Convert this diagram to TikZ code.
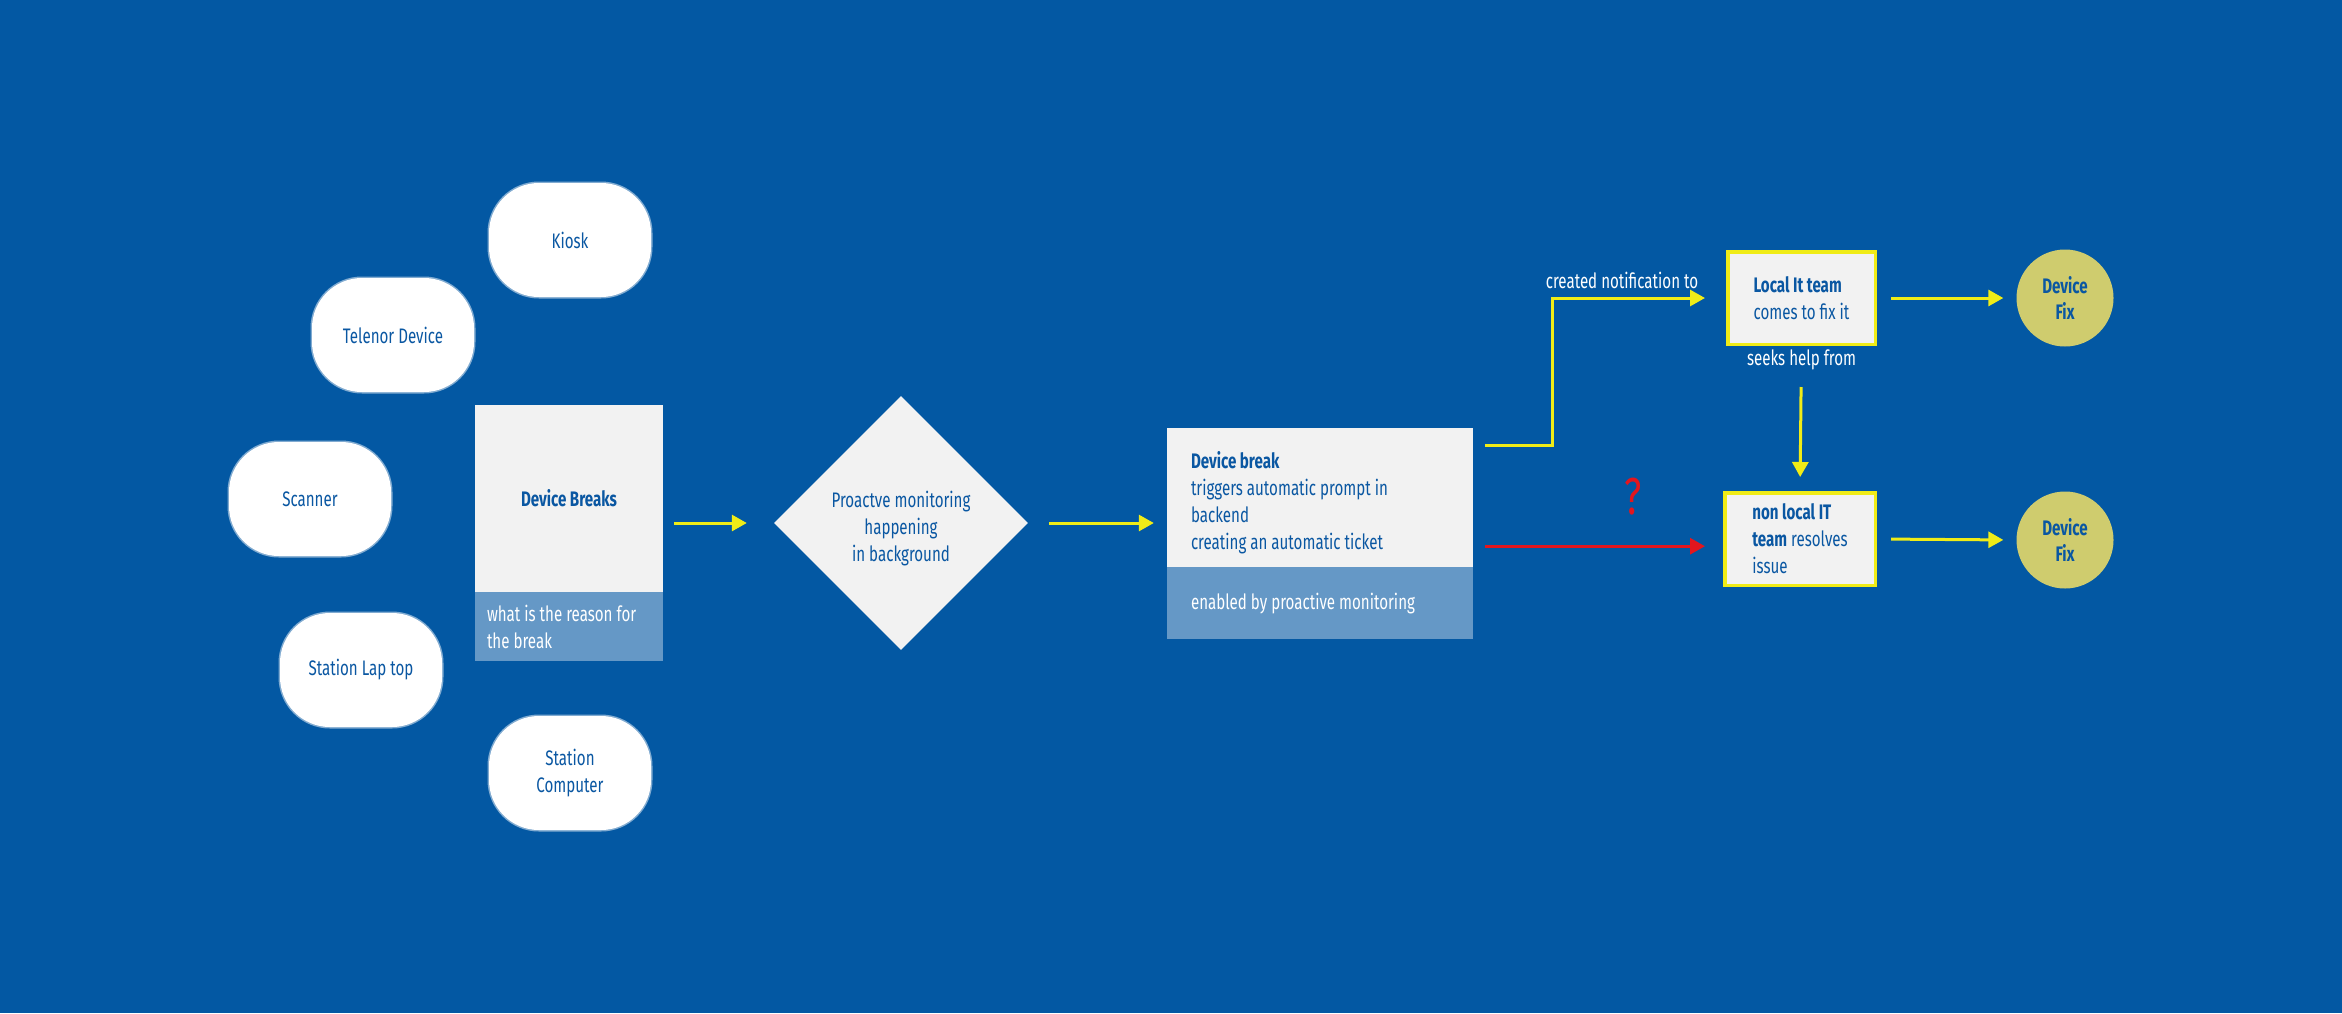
\documentclass[tikz,border=0pt]{standalone}
\usepackage{fontspec}
\setmainfont{Fira Sans}[FakeStretch=0.72]
\usetikzlibrary{shapes.geometric,arrows.meta,calc}
\definecolor{bgblue}{HTML}{0358A3}
\definecolor{boxlight}{HTML}{F2F2F2}
\definecolor{boxdark}{HTML}{6598C6}
\definecolor{txtblue}{HTML}{0A57A2}
\definecolor{arrowyellow}{HTML}{F0EC17}
\definecolor{fixolive}{HTML}{CFCC6E}
\definecolor{qred}{HTML}{E3161E}
\begin{document}
\begin{tikzpicture}[x=1pt,y=-1pt,
  every node/.style={font=\fontsize{21}{27}\selectfont, inner sep=0pt},
  device/.style={fill=white, rounded corners=50pt, draw=white, draw opacity=0.5, line width=3pt,
    text=txtblue, minimum width=162pt, minimum height=114pt, align=center},
  lightbox/.style={fill=boxlight, text=txtblue},
  darkbox/.style={fill=boxdark, text=white},
  teambox/.style={fill=boxlight, draw=arrowyellow, line width=3.5pt, text=txtblue, align=left},
  fixnode/.style={circle, fill=fixolive, text=txtblue, minimum size=97pt, align=center, font=\fontsize{21}{26}\selectfont\bfseries},
  yarrow/.style={draw=arrowyellow, line width=3pt, -{Triangle[length=15pt,width=16pt]}},
  rarrow/.style={draw=qred, line width=3pt, -{Triangle[length=15pt,width=16pt]}},
  lbltext/.style={text=white},
]
\fill[bgblue] (0,0) rectangle (2342,1013);
\useasboundingbox (0,0) rectangle (2342,1013);

% device stadiums
\node[device] (kiosk)    at (570,240) {Kiosk};
\node[device] (telenor)  at (393,335) {Telenor Device};
\node[device] (scanner)  at (310,499) {Scanner};
\node[device] (laptop)   at (361,670) {Station Lap top};
\node[device] (computer) at (570,773) {Station\\Computer};

% device breaks box
\node[lightbox, minimum width=188pt, minimum height=187pt] (breaks) at (569,498.5) {\bfseries Device Breaks};
\node[darkbox, anchor=north, minimum width=188pt, minimum height=69pt, text width=164pt, inner xsep=12pt, align=flush left] (reason) at (breaks.south) {what is the reason for\\the break};

% diamond
\node[diamond, fill=boxlight, text=txtblue, minimum width=254pt, minimum height=254pt, align=center] (monitor) at (901,523) {\rule{0pt}{27pt}Proactve monitoring\\happening\\in background};

% ticket box
\node[lightbox, minimum width=306pt, minimum height=139pt, text width=258pt, inner xsep=24pt, align=flush left] (ticket) at (1320,497.5) {\rule{0pt}{27pt}{\bfseries Device break}\\triggers automatic prompt in\\backend\\creating an automatic ticket};
\node[darkbox, anchor=north, minimum width=306pt, minimum height=72pt, text width=258pt, inner xsep=24pt, align=flush left] (enabled) at (ticket.south) {enabled by proactive monitoring};

% team boxes
\node[teambox, minimum width=147.5pt, minimum height=92.5pt] (local) at (1801.5,298) {{\bfseries Local It team}\\comes to fix it};
\node[teambox, minimum width=150.5pt, minimum height=92.5pt] (nonlocal) at (1800,539) {{\bfseries non local IT}\\{\bfseries team} resolves\\issue};

% fix circles
\node[fixnode] (fixa) at (2065,298) {Device\\Fix};
\node[fixnode] (fixb) at (2065,540) {Device\\Fix};

% labels
\node[lbltext] (notif) at (1622,280) {created notification to};
\node[lbltext, anchor=north] (seeks) at ([yshift=-4pt]local.south) {seeks help from};
\node[text=qred, font=\fontsize{52}{52}\selectfont] (quest) at (1633,497) {?};

% connectors
\draw[yarrow, shorten <=11pt, shorten >=27pt] (breaks.east |- monitor.west) -- (monitor.west);
\draw[yarrow, shorten <=21pt, shorten >=13pt] (monitor.east) -- (monitor.east -| ticket.west);
\draw[yarrow, shorten <=12pt, shorten >=21pt] ([yshift=-18pt]ticket.north east) -- ++(79,0) |- (local.west);
\coordinate (redstart) at ([yshift=21pt]ticket.south east);
\draw[rarrow, shorten <=12pt, shorten >=18pt] (redstart) -- (redstart -| nonlocal.west);
\draw[yarrow, shorten <=41pt, shorten >=14pt] (local.south) -- (nonlocal.north);
\draw[yarrow, shorten <=14pt, shorten >=13pt] (local.east) -- (fixa.west);
\draw[yarrow, shorten <=14pt, shorten >=13pt] (nonlocal.east) -- (fixb.west);
\end{tikzpicture}
\end{document}
